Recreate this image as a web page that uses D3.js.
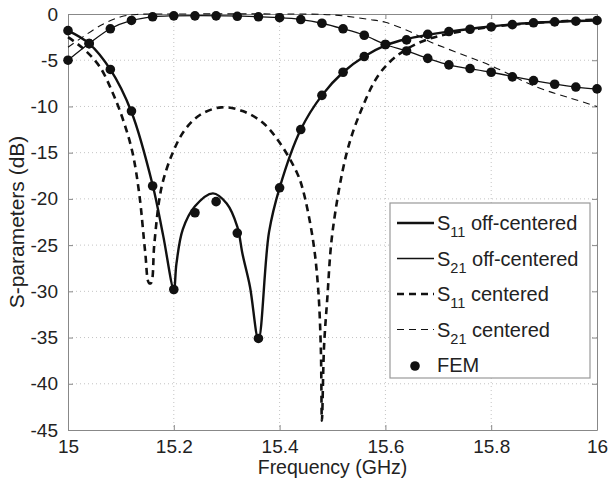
<!DOCTYPE html>
<html>
<head>
<meta charset="utf-8">
<script src="https://cdn.jsdelivr.net/npm/d3@7"></script>
<style>
  body { margin: 0; background: #fff; font-family: "Liberation Sans", Arial, sans-serif; }
  svg text { fill: #222; }
</style>
</head>
<body>
<div id="container"><svg></svg></div>
<script>
let width = 609;
let height = 478;

// x ticks / y ticks
let x_ticks = [15, 15.2, 15.4, 15.6, 15.8, 16];
let y_ticks = [0, -5, -10, -15, -20, -25, -30, -35, -40, -45];

// FEM samples (every 0.04 GHz)
let fem_freq = [15.00, 15.04, 15.08, 15.12, 15.16, 15.20, 15.24, 15.28, 15.32, 15.36, 15.40, 15.44, 15.48,
    15.52, 15.56, 15.60, 15.64, 15.68, 15.72, 15.76, 15.80, 15.84, 15.88, 15.92, 15.96, 16.00];
let fem_s11 = [-1.8, -3.2, -6.0, -10.5, -18.6, -29.8, -21.5, -20.3, -23.7, -35.1, -18.8, -12.5, -8.8,
    -6.3, -4.6, -3.3, -2.8, -2.2, -1.9, -1.65, -1.4, -1.15, -0.95, -0.85, -0.78, -0.7];
let fem_s21 = [-5.0, -3.2, -1.6, -0.7, -0.3, -0.2, -0.2, -0.2, -0.25, -0.3, -0.4, -0.6, -1.0,
    -1.6, -2.3, -3.3, -4.0, -4.8, -5.5, -5.9, -6.3, -6.8, -7.2, -7.6, -7.9, -8.1];

// S11 off-centered (solid thick)
let s11_off_freq = [15.00, 15.04, 15.08, 15.12, 15.16, 15.18, 15.20, 15.205, 15.217, 15.24, 15.274, 15.30, 15.32,
    15.33, 15.344, 15.36, 15.38, 15.40, 15.44, 15.48, 15.52, 15.56, 15.60, 15.64, 15.72, 15.80, 15.88, 16.00];
let s11_off_db = [-1.8, -3.2, -6.0, -10.6, -18.5, -24.0, -29.8, -27.0, -23.3, -20.8, -19.4, -20.5, -23.0,
    -26.0, -29.5, -35.2, -23.6, -18.8, -12.5, -8.8, -6.3, -4.6, -3.4, -2.7, -1.9, -1.35, -0.95, -0.7];

// S21 off-centered (solid thin)
let s21_off_freq = [15.00, 15.04, 15.08, 15.12, 15.16, 15.20, 15.30, 15.40, 15.44, 15.48, 15.52, 15.56, 15.60,
    15.64, 15.68, 15.72, 15.80, 15.88, 15.96, 16.00];
let s21_off_db = [-5.0, -3.2, -1.6, -0.7, -0.3, -0.2, -0.2, -0.4, -0.6, -1.0, -1.6, -2.3, -3.3,
    -4.0, -4.8, -5.5, -6.3, -7.2, -7.9, -8.1];

// S11 centered (dashed thick)
let s11_cen_freq = [15.00, 15.03, 15.06, 15.085, 15.105, 15.122, 15.135, 15.146, 15.153, 15.157, 15.163, 15.172,
    15.18, 15.198, 15.22, 15.25, 15.29, 15.33, 15.369, 15.40, 15.433, 15.444, 15.463, 15.473, 15.478, 15.48,
    15.484, 15.49, 15.50, 15.527, 15.555, 15.587, 15.62, 15.66, 15.70, 15.80, 15.90, 16.00];
let s11_cen_db = [-2.5, -3.8, -5.7, -8.6, -11.6, -15.0, -19.6, -25.8, -29.1, -29.1, -25.0, -20.3,
    -18.0, -15.0, -12.6, -10.9, -10.1, -10.5, -11.8, -13.9, -17.2, -19.0, -24.4, -29.8, -36.3, -44.0,
    -36.0, -30.9, -23.6, -15.0, -10.3, -6.6, -4.6, -3.2, -2.4, -1.4, -0.9, -0.6];

// S21 centered (dashed thin)
let s21_cen_freq = [15.00, 15.03, 15.066, 15.10, 15.13, 15.20, 15.40, 15.50, 15.57, 15.60, 15.646, 15.684,
    15.728, 15.80, 15.886, 15.95, 16.00];
let s21_cen_db = [-3.6, -2.4, -1.1, -0.3, -0.05, 0, 0, -0.1, -0.6, -0.9, -1.9, -3.0,
    -4.0, -5.6, -7.9, -9.1, -10.0];

let legend_labels = [
    ['S', '11', ' off-centered'],
    ['S', '21', ' off-centered'],
    ['S', '11', ' centered'],
    ['S', '21', ' centered'],
    ['FEM', '', '']
];

function zip(xs, ys) {
    return xs.map((d, i) => ({ f: d, v: ys[i] }));
}

function draw_main() {
    let padding = { left: 68, right: width - 597, top: 14, bottom: height - 430 };
    let svg = d3.select('#container').select('svg')
        .attr('width', width)
        .attr('height', height);

    let x = d3.scaleLinear().domain([15, 16]).range([padding.left, width - padding.right]);
    let y = d3.scaleLinear().domain([-45, 0]).range([height - padding.bottom, padding.top]);

    // grid
    let grid = svg.append('g').attr('stroke', '#c4c4c4').attr('stroke-width', 1).attr('stroke-dasharray', '1,3');
    x_ticks.slice(1, -1).forEach(t => {
        grid.append('line').attr('x1', x(t)).attr('x2', x(t)).attr('y1', y(0)).attr('y2', y(-45));
    });
    y_ticks.slice(1, -1).forEach(t => {
        grid.append('line').attr('x1', x(15)).attr('x2', x(16)).attr('y1', y(t)).attr('y2', y(t));
    });

    // axes (matlab style box, ticks inward)
    let axis_x = d3.axisBottom(x).tickValues(x_ticks).tickSizeInner(-5).tickSizeOuter(0).tickPadding(10)
        .tickFormat(d => d);
    let axis_y = d3.axisLeft(y).tickValues(y_ticks).tickSizeInner(-5).tickSizeOuter(0).tickPadding(9)
        .tickFormat(d => d);
    let gx = svg.append('g').attr('transform', `translate(0, ${y(-45)})`).call(axis_x);
    let gy = svg.append('g').attr('transform', `translate(${x(15)}, 0)`).call(axis_y);
    let gx2 = svg.append('g').attr('transform', `translate(0, ${y(0)})`)
        .call(d3.axisTop(x).tickValues(x_ticks).tickSizeInner(-5).tickSizeOuter(0).tickFormat(''));
    let gy2 = svg.append('g').attr('transform', `translate(${x(16)}, 0)`)
        .call(d3.axisRight(y).tickValues(y_ticks).tickSizeInner(-5).tickSizeOuter(0).tickFormat(''));
    [gx, gy, gx2, gy2].forEach(g => {
        g.selectAll('path').attr('stroke', '#888');
        g.selectAll('line').attr('stroke', '#888');
        g.selectAll('text').attr('font-family', '"Liberation Sans", Arial, sans-serif')
            .attr('font-size', '19px').attr('fill', '#222');
    });
    gy.selectAll('text').attr('dx', '-1');

    // axis labels
    svg.append('text')
        .attr('x', (x(15) + x(16)) / 2)
        .attr('y', 474)
        .attr('text-anchor', 'middle')
        .attr('font-size', '19.5px')
        .text('Frequency (GHz)');
    svg.append('text')
        .attr('transform', `translate(24, ${(y(0) + y(-45)) / 2}) rotate(-90)`)
        .attr('text-anchor', 'middle')
        .attr('font-size', '21px')
        .text('S-parameters (dB)');

    let line = d3.line().x(d => x(d.f)).y(d => y(d.v)).curve(d3.curveCatmullRom.alpha(0.5));
    let plot = svg.append('g');

    let series = [
        { data: zip(s11_cen_freq, s11_cen_db), w: 2.6, dash: '7,5' },
        { data: zip(s21_cen_freq, s21_cen_db), w: 1.1, dash: '7,5' },
        { data: zip(s21_off_freq, s21_off_db), w: 1.3, dash: null },
        { data: zip(s11_off_freq, s11_off_db), w: 2.4, dash: null }
    ];
    series.forEach(s => {
        plot.append('path')
            .datum(s.data)
            .attr('d', line)
            .attr('fill', 'none')
            .attr('stroke', '#111')
            .attr('stroke-width', s.w)
            .attr('stroke-dasharray', s.dash);
    });

    // FEM points
    plot.selectAll('circle.s11')
        .data(zip(fem_freq, fem_s11))
        .enter().append('circle')
        .attr('class', 's11')
        .attr('cx', d => x(d.f)).attr('cy', d => y(d.v)).attr('r', 4.8).attr('fill', '#111');
    plot.selectAll('circle.s21')
        .data(zip(fem_freq, fem_s21))
        .enter().append('circle')
        .attr('class', 's21')
        .attr('cx', d => x(d.f)).attr('cy', d => y(d.v)).attr('r', 4.8).attr('fill', '#111');

    // legend
    let lg = svg.append('g');
    lg.append('rect')
        .attr('x', 390).attr('y', 203).attr('width', 200).attr('height', 175)
        .attr('fill', '#fff').attr('stroke', '#999').attr('stroke-width', 1.2);
    let styles = [
        { w: 2.4, dash: null }, { w: 1.3, dash: null }, { w: 2.6, dash: '7,5' }, { w: 1.1, dash: '7,5' }
    ];
    legend_labels.forEach((lab, i) => {
        let yy = 223 + i * 35.5;
        if (i < 4) {
            lg.append('line')
                .attr('x1', 397).attr('x2', 434).attr('y1', yy).attr('y2', yy)
                .attr('stroke', '#111').attr('stroke-width', styles[i].w)
                .attr('stroke-dasharray', styles[i].dash);
        } else {
            lg.append('circle').attr('cx', 415).attr('cy', yy + 1).attr('r', 4.8).attr('fill', '#111');
        }
        let t = lg.append('text')
            .attr('x', 437).attr('y', yy + 7)
            .attr('font-size', '20px');
        t.append('tspan').text(lab[0]);
        if (lab[1]) {
            t.append('tspan').attr('dy', 7).attr('font-size', '14.5px').text(lab[1]);
            t.append('tspan').attr('dy', -7).text(lab[2]);
        }
    });
}

draw_main();
</script>
</body>
</html>
